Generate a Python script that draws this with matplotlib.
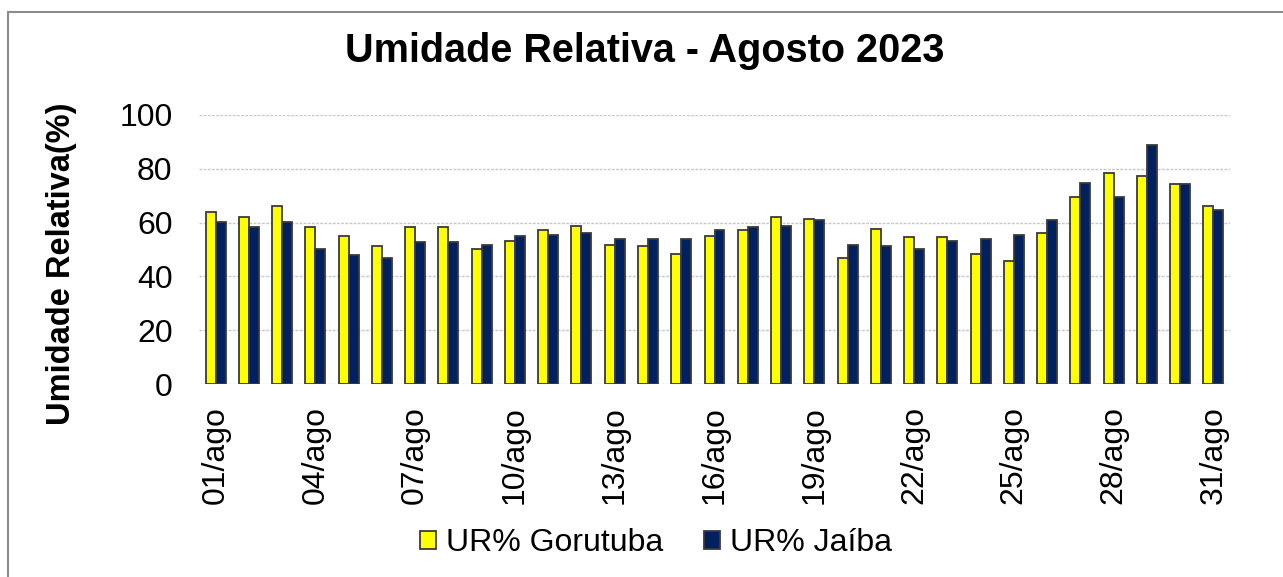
import numpy as np
import matplotlib.pyplot as plt
from matplotlib.patches import Rectangle

plt.rcParams['font.family'] = ['Liberation Sans', 'DejaVu Sans']

# dias de agosto 2023
dias = ['%02d/ago' % d for d in range(1, 32)]

ur_gorutuba = [64.0, 61.9, 66.1, 58.2, 55.0, 51.2, 58.2, 58.2, 50.1, 53.3,
               57.1, 58.7, 51.7, 51.2, 48.5, 55.0, 57.1, 61.9, 61.4, 46.9,
               57.6, 54.5, 54.5, 48.5, 45.8, 56.0, 69.4, 78.5, 77.4, 74.2,
               66.1]
ur_jaiba = [60.3, 58.2, 60.3, 50.1, 48.0, 46.9, 52.9, 52.9, 51.7, 55.0,
            55.5, 56.1, 53.8, 53.8, 53.8, 57.1, 58.2, 58.7, 60.9, 51.7,
            51.2, 50.1, 53.3, 53.8, 55.5, 60.9, 74.8, 69.4, 88.8, 74.2,
            64.6]

W, H = 1283, 577
fig = plt.figure(figsize=(W / 100, H / 100), dpi=100)
ax = fig.add_axes([199 / W, 1 - 384 / H, (1230 - 199) / W, (384 - 115) / H])

x = np.arange(len(dias))
bw = 0.3
ax.bar(x - bw / 2, ur_gorutuba, bw, color='#FFFF00', edgecolor='#3a3a3a',
       linewidth=1.3, label='UR% Gorutuba', zorder=3)
ax.bar(x + bw / 2, ur_jaiba, bw, color='#002060', edgecolor='#3a3a3a',
       linewidth=1.3, label='UR% Jaíba', zorder=3)

ax.set_xlim(-0.5, len(dias) - 0.5)
ax.set_ylim(0, 100)
ax.set_yticks([0, 20, 40, 60, 80, 100])
ax.yaxis.grid(True, color='#c8c8c8', linestyle=(0, (2, 1)), linewidth=1, zorder=0)
ax.set_axisbelow(True)
for s in ax.spines.values():
    s.set_visible(False)

ax.set_xticks(x[::3])
ax.set_xticklabels(dias[::3], rotation=90, fontsize=23)
ax.tick_params(axis='x', length=0, pad=16)
ax.tick_params(axis='y', length=0, pad=19, labelsize=23)

fig.text(62 / W, 1 - 264 / H, 'Umidade Relativa(%)', rotation=90,
         fontsize=23.5, fontweight='bold', ha='center', va='center')
fig.text(645 / W, 1 - 51 / H, 'Umidade Relativa - Agosto 2023',
         fontsize=28.5, fontweight='bold', ha='center', va='center')

fig.legend(loc='center', bbox_to_anchor=(656 / W, 1 - 543 / H), ncol=2,
           frameon=False, fontsize=23, handlelength=0.5, handleheight=0.5,
           handletextpad=0.3, columnspacing=1.3)

# borda do grafico (cortada a direita e embaixo)
fig.patches.append(Rectangle((7.5 / W, -0.1), 1.2, 1.1 - 11.7 / H,
                             transform=fig.transFigure, fill=False,
                             edgecolor='#8c8c8c', linewidth=1.5))

fig.savefig('out.png', dpi=100)
